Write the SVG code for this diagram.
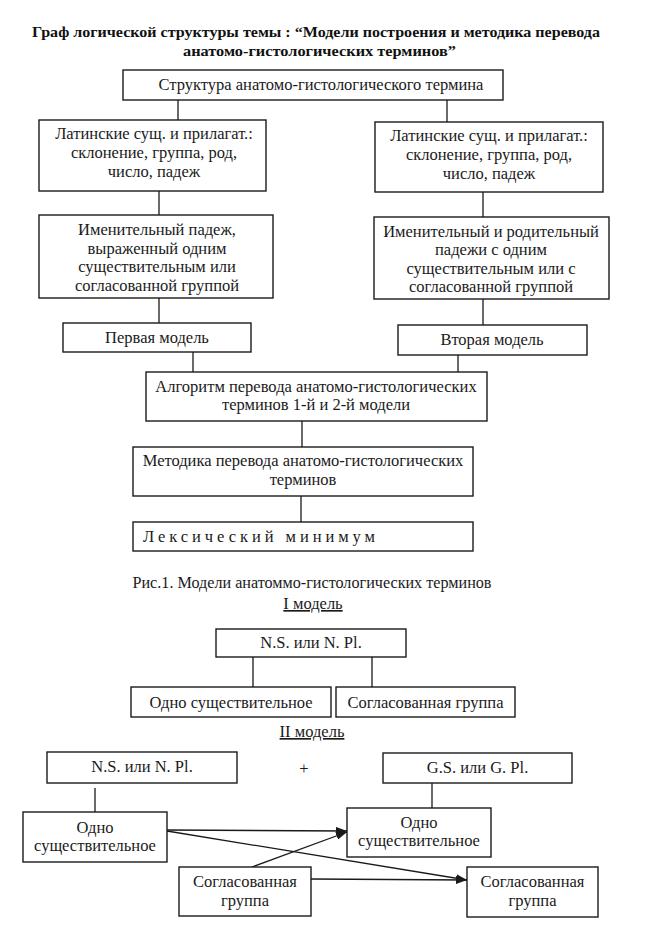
<svg xmlns="http://www.w3.org/2000/svg" width="647" height="941" viewBox="0 0 647 941" font-family="Liberation Serif, Times New Roman, DejaVu Serif, serif">
<defs>
<style>
.b{fill:#fff;stroke:#1a1a1a;stroke-width:1.4}
.c{stroke:#1a1a1a;stroke-width:1.3;fill:none}
.t{font-family:'Liberation Serif','Times New Roman',serif;font-size:16.5px;fill:#1a1a1a;text-anchor:middle}
.h{font-family:'Liberation Serif','Times New Roman',serif;font-size:15px;font-weight:bold;fill:#111;text-anchor:middle}
</style>
<marker id="ar" markerUnits="userSpaceOnUse" markerWidth="11" markerHeight="8" refX="11" refY="4" orient="auto">
<path d="M0,0 L11,4 L0,8 z" fill="#1a1a1a"/>
</marker>
</defs>
<rect width="647" height="941" fill="#fff"/>
<g id="title">
<text class="h" x="316" y="37" textLength="568" lengthAdjust="spacingAndGlyphs">Граф логической структуры темы : “Модели построения и методика перевода</text>
<text class="h" x="319.5" y="56" textLength="273" lengthAdjust="spacingAndGlyphs">анатомо-гистологических терминов”</text>
</g>
<g id="connectors">
<line class="c" x1="178" y1="100" x2="178" y2="120"/>
<line class="c" x1="447" y1="100" x2="447" y2="122"/>
<line class="c" x1="159" y1="191" x2="159" y2="215"/>
<line class="c" x1="483" y1="192" x2="483" y2="217"/>
<line class="c" x1="159" y1="298" x2="159" y2="323"/>
<line class="c" x1="483" y1="299" x2="483" y2="325"/>
<line class="c" x1="193" y1="352" x2="193" y2="372"/>
<line class="c" x1="458" y1="355" x2="458" y2="372"/>
<line class="c" x1="302" y1="421" x2="302" y2="447"/>
<line class="c" x1="301" y1="496" x2="301" y2="522"/>
<line class="c" x1="253" y1="657" x2="253" y2="687"/>
<line class="c" x1="372" y1="657" x2="372" y2="687"/>
<line class="c" x1="95" y1="788" x2="95" y2="812"/>
<line class="c" x1="432" y1="783" x2="432" y2="808"/>
<line class="c" x1="167" y1="830" x2="347" y2="831" marker-end="url(#ar)"/>
<line class="c" x1="167" y1="831" x2="467" y2="880" marker-end="url(#ar)"/>
<line class="c" x1="252" y1="867" x2="347" y2="832" marker-end="url(#ar)"/>
<line class="c" x1="311" y1="879" x2="467" y2="880" marker-end="url(#ar)"/>
</g>
<g id="n1"><rect class="b" x="123" y="70" width="380" height="30"/><text class="t" x="321" y="90">Структура анатомо-гистологического термина</text></g>
<g id="n2"><rect class="b" x="39" y="120" width="227" height="71"/>
<text class="t" x="154" y="139">Латинские сущ. и прилагат.:</text>
<text class="t" x="154" y="158">склонение, группа, род,</text>
<text class="t" x="154" y="177">число, падеж</text></g>
<g id="n3"><rect class="b" x="375" y="122" width="228" height="70"/>
<text class="t" x="489" y="141">Латинские сущ. и прилагат.:</text>
<text class="t" x="489" y="160">склонение, группа, род,</text>
<text class="t" x="489" y="179">число, падеж</text></g>
<g id="n4"><rect class="b" x="39" y="215" width="234" height="83"/>
<text class="t" x="157" y="235">Именительный  падеж,</text>
<text class="t" x="157" y="253.5">выраженный одним</text>
<text class="t" x="157" y="272">существительным  или</text>
<text class="t" x="157" y="290.5">согласованной группой</text></g>
<g id="n5"><rect class="b" x="374" y="217" width="235" height="82"/>
<text class="t" x="491" y="237">Именительный и родительный</text>
<text class="t" x="491" y="255">падежи с одним</text>
<text class="t" x="491" y="273.5">существительным или с</text>
<text class="t" x="491" y="292">согласованной  группой</text></g>
<g id="n6"><rect class="b" x="63" y="323" width="188" height="29"/><text class="t" x="157" y="343">Первая модель</text></g>
<g id="n7"><rect class="b" x="398" y="325" width="189" height="30"/><text class="t" x="492" y="345">Вторая модель</text></g>
<g id="n8"><rect class="b" x="146" y="372" width="341" height="49"/>
<text class="t" x="316" y="392">Алгоритм перевода анатомо-гистологических</text>
<text class="t" x="316" y="410">терминов 1-й  и  2-й  модели</text></g>
<g id="n9"><rect class="b" x="133" y="447" width="340" height="49"/>
<text class="t" x="303" y="466">Методика перевода анатомо-гистологических</text>
<text class="t" x="303" y="485">терминов</text></g>
<g id="n10"><rect class="b" x="133" y="522" width="340" height="29"/>
<text class="t" x="143" y="542" style="text-anchor:start" textLength="232" lengthAdjust="spacing">Лексический  минимум</text></g>
<g id="caption">
<text class="t" x="312" y="588" textLength="359" lengthAdjust="spacingAndGlyphs">Рис.1. Модели анатоммо-гистологических терминов</text>
<text class="t" x="313" y="609" text-decoration="underline">I модель</text>
<text class="t" x="312" y="737" text-decoration="underline">II модель</text>
<text class="t" x="304" y="774">+</text>
</g>
<g id="n11"><rect class="b" x="216" y="629" width="190" height="28"/><text class="t" x="311" y="648">N.S. или N. Pl.</text></g>
<g id="n12"><rect class="b" x="131" y="687" width="200" height="30"/><text class="t" x="231" y="708">Одно существительное</text></g>
<g id="n13"><rect class="b" x="336" y="687" width="179" height="30"/><text class="t" x="425.5" y="708">Согласованная группа</text></g>
<g id="n14"><rect class="b" x="47" y="752" width="190" height="31"/><text class="t" x="142" y="772">N.S. или N. Pl.</text></g>
<g id="n15"><rect class="b" x="383" y="753" width="189" height="30"/><text class="t" x="477.5" y="773">G.S. или G. Pl.</text></g>
<g id="n16"><rect class="b" x="23" y="812" width="144" height="50"/>
<text class="t" x="95" y="833">Одно</text><text class="t" x="95" y="851">существительное</text></g>
<g id="n17"><rect class="b" x="347" y="808" width="144" height="49"/>
<text class="t" x="419" y="828">Одно</text><text class="t" x="419" y="846">существительное</text></g>
<g id="n18"><rect class="b" x="179" y="867" width="132" height="49"/>
<text class="t" x="245" y="887">Согласованная</text><text class="t" x="245" y="906">группа</text></g>
<g id="n19"><rect class="b" x="467" y="867" width="131" height="50"/>
<text class="t" x="532.5" y="887">Согласованная</text><text class="t" x="532.5" y="906">группа</text></g>
</svg>
